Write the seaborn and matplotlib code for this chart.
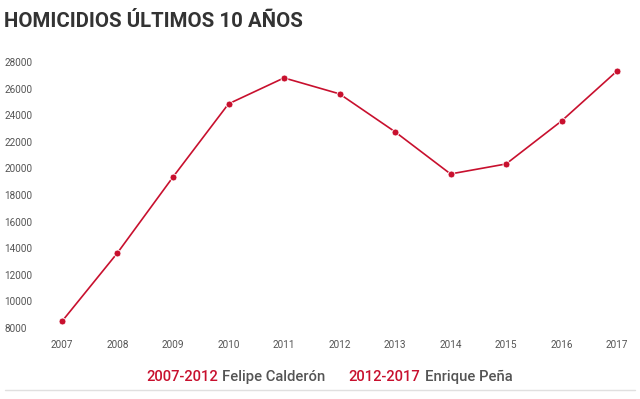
import matplotlib
matplotlib.use("Agg")
import matplotlib.pyplot as plt
import seaborn as sns
import pandas as pd
from matplotlib.lines import Line2D

# Homicidios por año
years = [2007, 2008, 2009, 2010, 2011, 2012, 2013, 2014, 2015, 2016, 2017]
homicides = [8500, 13650, 19350, 24850, 26800, 25600, 22750, 19580, 20330, 23560, 27320]
y_ticks = list(range(8000, 28001, 2000))

title = "HOMICIDIOS ÚLTIMOS 10 AÑOS"
legend_parts = [
    ("2007-2012", "Felipe Calderón"),
    ("2012-2017", "Enrique Peña"),
]

RED = "#c8102e"
DARK = "#333333"
GRAY = "#555555"

sns.set_style("white")
plt.rcParams["font.family"] = ["Roboto", "DejaVu Sans"]

df = pd.DataFrame({"year": years, "homicidios": homicides})

fig = plt.figure(figsize=(6.4, 3.99), dpi=100)
ax = fig.add_axes([0.0535, 0.1613, 0.954, 0.7168])

sns.lineplot(data=df, x="year", y="homicidios", ax=ax, color=RED,
             linewidth=1.2, marker="o", markersize=5,
             markeredgecolor="white", markeredgewidth=0.6, markerfacecolor=RED)

ax.set_xlim(2006.5, 2017.5)
ax.set_ylim(7500, 29000)
ax.set_xticks(years)
ax.set_yticks(y_ticks)
ax.set_xticklabels([str(y) for y in years])
ax.set_xlabel("")
ax.set_ylabel("")
ax.tick_params(axis="both", length=0, labelsize=7.2, labelcolor=GRAY)
ax.tick_params(axis="y", pad=21.5)
ax.tick_params(axis="x", pad=4)
for lbl in ax.get_yticklabels():
    lbl.set_horizontalalignment("left")
for s in ax.spines.values():
    s.set_visible(False)
ax.grid(False)

fig.text(0.006, 0.945, title, fontsize=14.7, fontweight="bold",
         color=DARK, ha="left", va="center")

# leyenda en texto de dos colores, cada trozo colocado tras el anterior
last = None
for i, (period, name) in enumerate(legend_parts):
    if last is None:
        prev = fig.text(146 / 640, 1 - 377 / 399, period, color=RED,
                        fontsize=10.6, fontweight="medium", ha="left", va="center")
    else:
        prev = ax.annotate(period, xy=(1, 0.5), xycoords=last, xytext=(17, 0),
                           textcoords="offset points", color=RED, fontsize=10.6,
                           fontweight="medium", ha="left", va="center",
                           annotation_clip=False)
    last = ax.annotate(name, xy=(1, 0.5), xycoords=prev, xytext=(3, 0),
                       textcoords="offset points", color=GRAY, fontsize=10.6,
                       fontweight="medium", ha="left", va="center",
                       annotation_clip=False)

fig.add_artist(Line2D([5 / 640, 635 / 640], [1 - 390 / 399] * 2,
                      transform=fig.transFigure, color="#e0e0e0", linewidth=1))

fig.savefig("out.png", dpi=100)
